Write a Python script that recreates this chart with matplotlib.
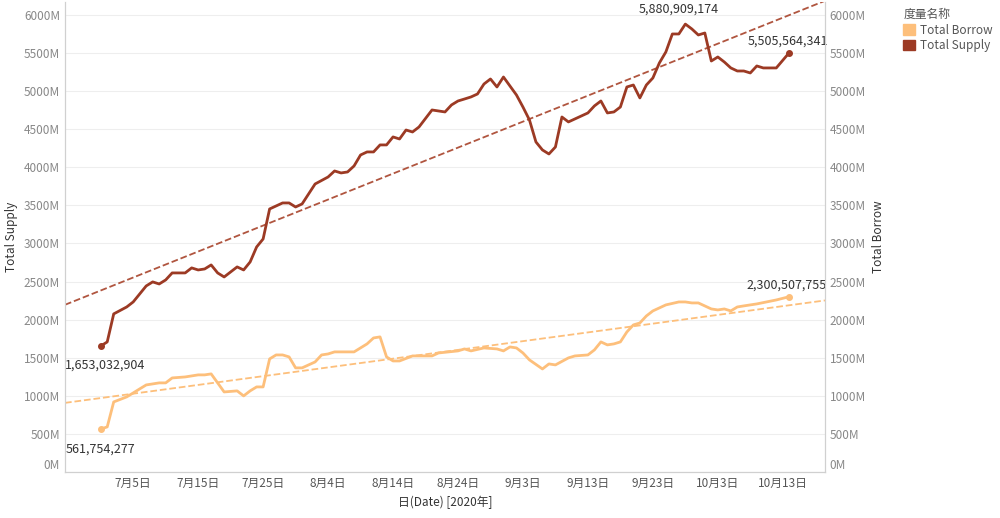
import numpy as np
import pandas as pd
import matplotlib
matplotlib.use("Agg")
import matplotlib.pyplot as plt
from matplotlib.patches import Patch

plt.rcParams['font.family'] = ['Noto Sans CJK SC', 'DejaVu Sans']

start = pd.Timestamp("2020-06-30")

supply_days = [0, 1, 2, 4, 5, 7, 8, 9, 10, 11, 13, 14, 15, 16, 17, 18, 19, 21, 22, 23, 24, 25, 26,
               28, 29, 30, 31, 33, 35, 36, 37, 38, 39, 40, 41, 42, 43, 44, 45, 46, 47, 48, 49, 51,
               53, 54, 55, 56, 57, 58, 59, 60, 61, 62, 64, 65, 66, 67, 68, 69, 70, 71, 72, 75, 76,
               77, 78, 79, 80, 81, 82, 83, 84, 85, 86, 87, 88, 89, 90, 91, 92, 93, 94, 95, 96, 97,
               98, 99, 100, 101, 102, 104, 106]
supply_vals = [1653, 1707, 2075, 2166, 2232, 2442, 2495, 2468, 2521, 2613, 2613, 2679, 2652, 2665,
               2718, 2613, 2560, 2692, 2652, 2757, 2954, 3059, 3453, 3532, 3532, 3479, 3519, 3781,
               3873, 3952, 3926, 3939, 4018, 4162, 4202, 4202, 4294, 4294, 4399, 4372, 4490, 4464,
               4530, 4753, 4727, 4819, 4871, 4897, 4924, 4963, 5094, 5160, 5055, 5186, 4950, 4792,
               4622, 4333, 4228, 4175, 4267, 4661, 4596, 4714, 4806, 4871, 4714, 4727, 4792, 5055,
               5081, 4911, 5081, 5173, 5370, 5515, 5751, 5751, 5881, 5817, 5738, 5764, 5396, 5449,
               5383, 5305, 5265, 5265, 5239, 5331, 5305, 5305, 5506]

borrow_days = [0, 1, 2, 4, 5, 6, 7, 9, 10, 11, 13, 15, 16, 17, 18, 19, 21, 22, 23, 24, 25, 26, 27,
               28, 29, 30, 31, 33, 34, 35, 36, 39, 41, 42, 43, 44, 45, 46, 48, 51, 52, 55, 56, 57,
               59, 61, 62, 63, 64, 65, 66, 68, 69, 70, 72, 73, 75, 76, 77, 78, 79, 80, 81, 82, 83,
               84, 85, 87, 89, 90, 91, 92, 94, 95, 96, 97, 98, 99, 101, 104, 106]
borrow_vals = [562, 591, 919, 985, 1037, 1090, 1142, 1169, 1169, 1234, 1247, 1274, 1274, 1287, 1169,
               1050, 1064, 998, 1064, 1116, 1116, 1484, 1536, 1536, 1510, 1366, 1366, 1444, 1536,
               1549, 1576, 1576, 1681, 1759, 1773, 1510, 1457, 1457, 1523, 1523, 1562, 1589, 1615,
               1589, 1628, 1615, 1589, 1641, 1628, 1562, 1471, 1352, 1418, 1405, 1497, 1523, 1536,
               1602, 1707, 1668, 1681, 1707, 1838, 1930, 1956, 2048, 2114, 2193, 2232, 2232, 2219,
               2219, 2140, 2127, 2140, 2114, 2166, 2180, 2206, 2258, 2301]

c_supply = "#9c3a24"
c_supply_trend = "#b0553f"
c_borrow = "#fdbf7b"

fig = plt.figure(figsize=(10, 5.18), dpi=100)
ax = fig.add_axes([0.065, 0.089, 0.76, 0.907])
ax2 = ax.twinx()

xmin, xmax = start + pd.Timedelta(days=-5.5), start + pd.Timedelta(days=111.5)
sd = start + pd.to_timedelta(supply_days, unit="D")
bd = start + pd.to_timedelta(borrow_days, unit="D")

for days, vals, dts, c, ct in [(supply_days, supply_vals, sd, c_supply, c_supply_trend),
                               (borrow_days, borrow_vals, bd, c_borrow, c_borrow)]:
    ax.plot(dts, vals, color=c, lw=2, zorder=3)
    ax.plot([dts[0], dts[-1]], [vals[0], vals[-1]], "o", color=c, ms=4, zorder=4)
    k, b = np.polyfit(days, vals, 1)
    xx = np.array([-5.5, 111.5])
    ax.plot(start + pd.to_timedelta(xx, unit="D"), k * xx + b, "--", color=ct, lw=1.3, zorder=2)

tc = "#333333"
ax.annotate(f"{1653032904:,}", (sd[0], supply_vals[0]), xytext=(-26, -16), textcoords="offset points", fontsize=9, color=tc)
ax.annotate(f"{561754277:,}", (bd[0], borrow_vals[0]), xytext=(-25, -17), textcoords="offset points", fontsize=9, color=tc)
ax.annotate(f"{5880909174:,}", (start + pd.Timedelta(days=89), 5881), xytext=(0, 8), textcoords="offset points", fontsize=9, color=tc, ha="center")
ax.annotate(f"{5505564341:,}", (sd[-1], supply_vals[-1]), xytext=(-30, 6), textcoords="offset points", fontsize=9, color=tc)
ax.annotate(f"{2300507755:,}", (bd[-1], borrow_vals[-1]), xytext=(-31, 6), textcoords="offset points", fontsize=9, color=tc)

yticks = np.arange(0, 6001, 500)
ylabels = [f"{v}M" for v in yticks]
for a in (ax, ax2):
    a.set_ylim(0, 6170)
    a.set_xlim(xmin, xmax)
    a.set_yticks(yticks)
    a.set_yticklabels(ylabels, fontsize=8.5, color="#888888")
    a.tick_params(length=0)
    for s in a.spines.values():
        s.set_color("#d0d0d0")
    a.spines["top"].set_visible(False)
for a in (ax, ax2):
    a.get_yticklabels()[0].set_va("bottom")
ax.grid(axis="y", color="#eeeeee", lw=0.8)
ax.set_axisbelow(True)

ticks = [pd.Timestamp("2020-07-05") + pd.Timedelta(days=10 * i) for i in range(11)]
ax.set_xticks(ticks)
ax.set_xticklabels([f"{t.month}月{t.day}日" for t in ticks], fontsize=8.5, color="#555555")
ax.set_ylabel("Total Supply", fontsize=8.5, color="#333333")
ax2.set_ylabel("Total Borrow", fontsize=8.5, color="#333333")
ax.set_xlabel("日(Date) [2020年]", fontsize=8.5, color="#333333")

handles = [Patch(color=c_borrow, label="Total Borrow"), Patch(color=c_supply, label="Total Supply")]
leg = fig.legend(handles=handles, loc="upper left", bbox_to_anchor=(0.895, 1.0), title="度量名称",
                 frameon=False, fontsize=8.5, title_fontsize=8.5, handlelength=1.0, handleheight=1.0,
                 handletextpad=0.4, labelspacing=0.2, borderpad=0.2)
leg._legend_box.align = "left"
plt.setp(leg.get_texts(), color="#555555")
leg.get_title().set_color("#555555")

fig.savefig("out.png")
